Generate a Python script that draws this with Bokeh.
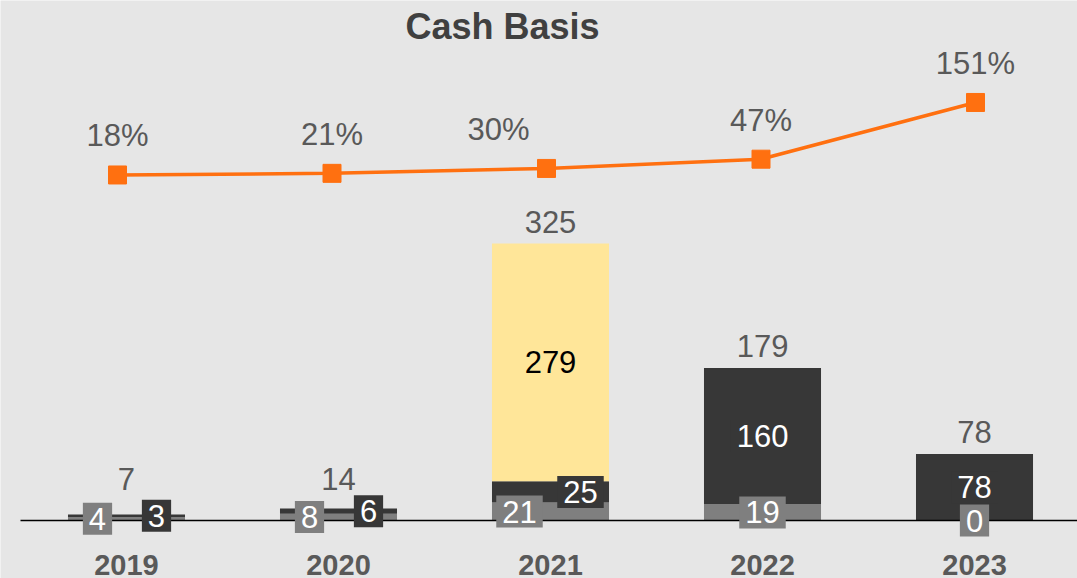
from bokeh.plotting import figure
from bokeh.models import Range1d, Label
from bokeh.core.properties import value
from bokeh.embed import file_html
from bokeh.resources import INLINE

# ---------------- data ----------------
years = ["2019", "2020", "2021", "2022", "2023"]
gray_vals = [4, 8, 21, 19, 0]
dark_vals = [3, 6, 25, 160, 78]
yellow_vals = [0, 0, 279, 0, 0]
pct_vals = [18, 21, 30, 47, 151]

# ---------------- styles ----------------
FONT = "Liberation Sans"
BG = "#e6e6e6"
GRAY = "#7f7f7f"
DARK = "#373737"
YELLOW = "#ffe699"
ORANGE = "#ff7010"
LABEL_GRAY = "#595959"
W, H = 1077, 578

# label horizontal nudges (px) to avoid overlaps, like the original
gray_dx = [-29, -29, -31, 0, 0]
dark_dx = [30, 30, 30, 0, 0]
pct_dx = [0, 0, -48, 0, 0]

xs = list(range(len(years)))
y_start, y_end = -68.05, 610.11
px_per_unit = H / (y_end - y_start)

p = figure(width=W, height=H, output_backend="svg", toolbar_location=None,
           x_range=Range1d(-0.5943, 4.4858), y_range=Range1d(y_start, y_end),
           x_axis_type=None, y_axis_type=None, min_border=0)
p.background_fill_color = BG
p.border_fill_color = BG
p.outline_line_color = None
p.grid.visible = False
# secondary axes for the ratio line (as in the original combo chart)
p.extra_y_ranges = {"pct": Range1d(-722.3, 338.1)}
p.extra_x_ranges = {"pctx": Range1d(-0.5455, 4.4755)}

# ---------------- bars ----------------
g_top = list(gray_vals)
d_bottom = g_top
d_top = [g + d for g, d in zip(gray_vals, dark_vals)]
y_bottom = d_top
y_top = [a + y for a, y in zip(d_top, yellow_vals)]
totals = y_top

bw = 0.552
p.vbar(x=xs, width=bw, bottom=0, top=g_top, fill_color=GRAY, line_color=None)
p.vbar(x=xs, width=bw, bottom=d_bottom, top=d_top, fill_color=DARK, line_color=None)
p.vbar(x=xs, width=bw, bottom=y_bottom, top=y_top, fill_color=YELLOW, line_color=None)

# baseline
p.segment(x0=[-0.5], y0=[0], x1=[4.5], y1=[0], line_color="black", line_width=1.6)

# ---------------- bar labels ----------------
pad = dict(left=6, right=6, top=5, bottom=5)
p.text(x=xs, y=[g / 2 for g in gray_vals], text=[str(v) for v in gray_vals],
       x_offset=gray_dx, text_align="center", text_baseline="middle",
       text_font=value(FONT), text_font_size="31px", text_color="white",
       background_fill_color=GRAY, padding=pad)
p.text(x=xs, y=[(b + t) / 2 for b, t in zip(d_bottom, d_top)], text=[str(v) for v in dark_vals],
       x_offset=dark_dx, text_align="center", text_baseline="middle",
       text_font=value(FONT), text_font_size="31px", text_color="white",
       background_fill_color=DARK, padding=pad)
yx = [x for x, v in zip(xs, yellow_vals) if v > 0]
yy = [(b + t) / 2 for b, t, v in zip(y_bottom, y_top, yellow_vals) if v > 0]
yt = [str(v) for v in yellow_vals if v > 0]
p.text(x=yx, y=yy, text=yt, text_align="center", text_baseline="middle",
       text_font=value(FONT), text_font_size="31px", text_color="black")

# totals above bars
tot_y = [max(t + 22 / px_per_unit, 42 / px_per_unit) for t in totals]
p.text(x=xs, y=tot_y, text=[str(t) for t in totals], text_align="center",
       text_baseline="middle", text_font=value(FONT), text_font_size="31px",
       text_color=LABEL_GRAY)

# ---------------- percent line ----------------
p.line(x=xs, y=pct_vals, x_range_name="pctx", y_range_name="pct",
       line_color=ORANGE, line_width=3.5)
p.scatter(x=xs, y=pct_vals, x_range_name="pctx", y_range_name="pct", marker="square",
          size=18, fill_color=ORANGE, line_color=ORANGE)
p.text(x=xs, y=pct_vals, x_range_name="pctx", y_range_name="pct",
       text=[f"{v}%" for v in pct_vals],
       x_offset=pct_dx, y_offset=-39, text_align="center", text_baseline="middle",
       text_font=value(FONT), text_font_size="31px", text_color=LABEL_GRAY)

# ---------------- category labels ----------------
p.text(x=xs, y=[0] * len(xs), text=years, y_offset=44, text_align="center",
       text_baseline="middle", text_font=value(FONT), text_font_size="29px",
       text_font_style="bold", text_color=LABEL_GRAY)

# ---------------- title ----------------
p.add_layout(Label(x=502, y=552, x_units="screen", y_units="screen", text="Cash Basis",
                   text_align="center", text_baseline="middle",
                   text_font=FONT, text_font_size="36px", text_font_style="bold",
                   text_color="#404040"))

open("out.html", "w").write(file_html(p, INLINE))
